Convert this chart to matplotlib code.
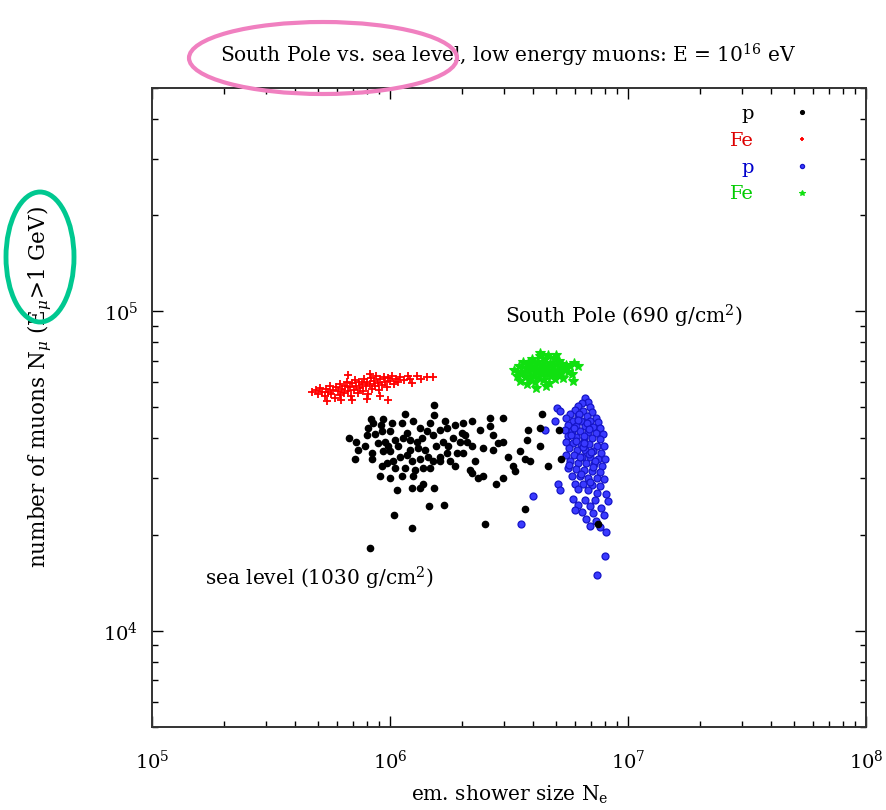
import numpy as np
import matplotlib.pyplot as plt
from matplotlib.patches import Ellipse

plt.rcParams['font.family'] = ['DejaVu Serif']
plt.rcParams['mathtext.fontset'] = 'dejavuserif'

# sea level, protons  (N_e in 1e6, N_mu in 1e3)
sl_p_ne = [1.53, 1.53, 0.832, 0.934, 0.848, 0.917, 1.156, 1.25, 1.124, 0.673,
           0.72, 0.80, 0.865, 0.926, 1.0, 0.953, 1.05, 1.18, 1.213, 1.30,
           1.36, 1.43, 1.52, 1.622, 1.736, 1.875, 2.026, 1.84, 1.968, 1.67,
           0.734, 0.713, 0.84, 0.84, 0.934, 1.0, 1.03, 0.97, 0.926, 0.908,
           1.0, 1.102, 1.18, 1.238, 1.337, 1.445, 1.52, 1.156, 1.274, 1.376,
           1.472, 1.622, 1.736, 1.91, 1.875, 1.622, 1.25, 1.07, 1.238, 1.337,
           1.376, 1.53, 1.46, 1.686, 1.04, 1.238, 0.824, 2.63, 2.98, 2.21,
           2.388, 2.63, 2.065, 2.11, 2.21, 2.46, 2.71, 2.84, 2.71, 2.98,
           2.275, 2.168, 2.21, 2.46, 2.34, 2.79, 2.98, 3.13, 3.516, 3.69,
           3.873, 3.29, 3.35, 3.80, 3.76, 4.266, 4.35, 4.266, 4.61, 5.23,
           3.69, 2.506, 5.13, 7.47, 0.89, 1.08, 1.134, 1.31, 1.403, 1.56,
           1.75, 2.026, 1.05, 1.124, 0.98, 0.785, 1.337, 1.472, 1.702, 1.213,
           1.786, 2.0, 0.81, 1.02]
sl_p_nmu = [50.8, 47.2, 45.9, 45.9, 44.6, 44.0, 47.6, 45.2, 44.6, 40.0,
            39.1, 40.9, 41.2, 42.1, 42.1, 39.1, 39.4, 41.5, 39.4, 39.1,
            40.0, 42.1, 40.9, 42.4, 43.0, 44.0, 44.6, 40.0, 39.1, 39.1,
            36.7, 34.6, 35.9, 34.6, 36.4, 36.4, 34.1, 33.4, 32.7, 30.5,
            30.0, 35.1, 35.4, 34.1, 34.6, 35.1, 33.9, 32.2, 31.8, 32.2,
            32.2, 35.1, 35.9, 35.9, 32.7, 33.9, 30.6, 27.5, 27.9, 27.9,
            28.9, 27.9, 24.5, 24.7, 23.0, 20.9, 18.1, 46.5, 46.5, 45.2,
            42.4, 43.6, 40.9, 39.1, 37.8, 37.2, 40.9, 38.6, 36.7, 39.1,
            34.1, 31.8, 31.1, 30.6, 30.0, 28.9, 30.0, 35.1, 36.4, 34.6,
            34.1, 32.7, 31.6, 42.4, 39.4, 37.8, 47.6, 43.0, 32.7, 34.4,
            24.1, 21.6, 42.4, 21.6, 38.6, 37.8, 40.0, 37.2, 36.7, 37.8,
            37.8, 35.9, 32.2, 30.4, 37.9, 37.8, 43.0, 44.6, 45.5, 36.7,
            34.1, 41.5, 43.0, 44.6]

# sea level, iron
sl_fe_ne = [0.470, 0.489, 0.498, 0.508, 0.518, 0.533, 0.538, 0.549, 0.560, 0.565,
            0.576, 0.587, 0.593, 0.605, 0.617, 0.617, 0.629, 0.641, 0.648, 0.661,
            0.667, 0.679, 0.686, 0.693, 0.706, 0.713, 0.720, 0.734, 0.741, 0.748,
            0.763, 0.770, 0.777, 0.793, 0.800, 0.808, 0.824, 0.832, 0.840, 0.857,
            0.865, 0.874, 0.891, 0.899, 0.908, 0.926, 0.944, 0.953, 0.972, 0.981,
            1.000, 1.020, 1.039, 1.060, 1.080, 1.102, 1.146, 1.190, 1.238, 1.300,
            1.35, 1.43, 1.52, 0.543, 0.623, 0.693, 0.800, 0.908, 0.981, 0.667,
            0.824, 1.213]
sl_fe_nmu = [55.8, 56.6, 54.9, 57.4, 55.8, 54.1, 57.0, 55.8, 58.3, 54.9,
             56.6, 53.4, 57.8, 56.2, 59.1, 54.5, 57.0, 55.3, 58.3, 60.0,
             56.2, 57.8, 54.1, 59.5, 56.6, 60.8, 58.3, 55.3, 60.0, 57.4,
             59.1, 56.2, 61.2, 58.3, 60.0, 54.9, 59.1, 61.7, 57.0, 60.4,
             58.3, 62.5, 59.5, 56.6, 61.2, 58.7, 62.1, 60.0, 57.8, 61.7,
             60.4, 62.5, 59.1, 61.2, 60.0, 62.1, 60.8, 62.5, 59.5, 62.5,
             61.2, 62.1, 62.1, 52.2, 52.6, 52.6, 53.0, 54.1, 52.6, 63.0,
             63.4, 61.2]

# South Pole, protons
sp_p_ne = [6.59, 6.78, 6.40, 6.16, 6.92, 5.03, 5.18, 5.98, 6.46, 7.05,
           5.70, 6.16, 6.72, 7.33, 5.48, 5.87, 6.34, 6.92, 7.47, 5.59,
           6.04, 6.59, 7.12, 7.62, 5.43, 5.81, 6.28, 6.78, 7.33, 7.84,
           5.59, 6.04, 6.53, 7.05, 7.62, 5.48, 5.87, 6.34, 6.85, 7.40,
           7.92, 5.64, 6.10, 6.59, 7.12, 7.69, 5.48, 5.93, 6.40, 6.92,
           7.47, 8.00, 5.70, 6.16, 6.65, 7.19, 7.77, 5.59, 6.04, 6.53,
           7.05, 7.62, 5.81, 6.28, 6.78, 7.40, 7.92, 5.98, 6.46, 7.05,
           7.62, 5.08, 5.18, 6.16, 6.78, 7.40, 8.07, 5.87, 6.59, 7.26,
           8.23, 6.16, 6.92, 7.69, 6.40, 7.12, 7.92, 5.98, 6.65, 7.33,
           6.92, 7.62, 8.07, 3.99, 3.55, 4.93, 4.48, 8.00, 7.40,
           6.25, 6.70, 5.75, 6.05, 6.45, 6.85, 7.25, 5.65, 6.35, 6.95,
           6.15, 6.55, 7.00, 5.90, 6.30, 6.85, 6.50, 7.15]
sp_p_nmu = [53.4, 51.9, 51.5, 50.4, 50.1, 49.7, 48.6, 49.0, 48.6, 48.3,
            47.6, 46.9, 46.9, 46.5, 46.2, 45.5, 45.2, 45.2, 44.9, 44.0,
            43.6, 43.6, 43.3, 43.0, 42.4, 42.1, 42.1, 41.8, 41.5, 41.2,
            40.6, 40.3, 40.0, 40.0, 39.7, 38.9, 38.6, 38.3, 38.3, 38.0,
            37.8, 37.2, 36.9, 36.7, 36.4, 36.1, 35.6, 35.4, 35.1, 35.1,
            34.6, 34.4, 33.9, 33.6, 33.4, 33.2, 32.9, 32.2, 32.0, 31.8,
            31.6, 31.3, 30.6, 30.4, 30.0, 30.0, 29.8, 28.9, 28.7, 28.5,
            28.3, 28.9, 27.5, 27.7, 27.5, 26.9, 26.7, 25.9, 25.7, 25.6,
            25.4, 24.7, 24.5, 24.3, 23.6, 23.3, 23.1, 23.8, 22.4, 22.1,
            21.3, 21.2, 20.4, 26.5, 21.6, 45.2, 42.4, 17.1, 15.0,
            47.8, 44.8, 41.0, 39.2, 37.5, 35.8, 34.0, 33.0, 31.0, 29.3,
            45.8, 40.8, 36.2, 43.0, 34.9, 42.8, 38.8, 32.5]

# South Pole, iron
sp_fe_ne = [3.32, 3.42, 3.48, 3.516, 3.58, 3.62, 3.69, 3.73, 3.76, 3.80,
            3.84, 3.873, 3.91, 3.95, 3.99, 4.03, 4.064, 4.10, 4.14, 4.18,
            4.22, 4.266, 4.31, 4.35, 4.39, 4.43, 4.477, 4.52, 4.56, 4.61,
            4.65, 4.699, 4.74, 4.79, 4.84, 4.88, 4.932, 4.98, 5.03, 5.08,
            5.13, 5.176, 5.23, 5.28, 5.33, 5.38, 5.48, 5.59, 5.70, 5.81,
            5.93, 6.16, 5.87, 4.266, 3.80, 3.516, 4.52, 4.10, 4.98, 4.61]
sp_fe_nmu = [65.4, 62.5, 67.3, 60.4, 64.4, 69.3, 62.1, 66.3, 59.1, 64.4,
             68.2, 61.2, 65.8, 70.8, 63.0, 67.3, 60.0, 64.9, 69.3, 62.1,
             66.3, 72.3, 63.9, 68.2, 60.8, 65.8, 70.8, 63.0, 67.3, 64.9,
             59.5, 68.7, 62.5, 66.8, 64.4, 71.3, 61.2, 68.2, 65.4, 63.0,
             69.8, 66.8, 63.9, 68.2, 61.7, 65.8, 67.8, 64.4, 67.3, 63.4,
             68.7, 67.3, 60.4, 73.8, 68.7, 63.9, 58.3, 57.4, 72.8, 72.8]

sl_p_ne = np.array(sl_p_ne) * 1e6
sl_p_nmu = np.array(sl_p_nmu) * 1e3
sl_fe_ne = np.array(sl_fe_ne) * 1e6
sl_fe_nmu = np.array(sl_fe_nmu) * 1e3
sp_p_ne = np.array(sp_p_ne) * 1e6
sp_p_nmu = np.array(sp_p_nmu) * 1e3
sp_fe_ne = np.array(sp_fe_ne) * 1e6
sp_fe_nmu = np.array(sp_fe_nmu) * 1e3

fig = plt.figure(figsize=(8.86, 8.10), dpi=100)
ax = fig.add_axes([0.1716, 0.1025, 0.8059, 0.789])
ax.set_xscale('log')
ax.set_yscale('log')

h3, = ax.plot(sp_p_ne, sp_p_nmu, 'o', ms=5, mfc='#3a3aff', mec='#1515c8', mew=0.9, ls='none', zorder=2)
h4, = ax.plot(sp_fe_ne, sp_fe_nmu, '*', ms=7, color='#10e010', mew=0.8, ls='none', zorder=2)
h2, = ax.plot(sl_fe_ne, sl_fe_nmu, '+', ms=6, color='#ff0000', mew=1.3, ls='none', zorder=3)
h1, = ax.plot(sl_p_ne, sl_p_nmu, 'o', ms=4.5, color='k', ls='none', zorder=4)

ax.set_xlim(1e5, 1e8)
ax.set_ylim(5e3, 5e5)

ax.tick_params(which='both', direction='in', top=True, right=True, width=1, labelsize=14)
ax.tick_params(axis='x', pad=16)
ax.tick_params(axis='y', pad=10)
ax.tick_params(which='major', length=8)
ax.tick_params(which='minor', length=4.5)
for s in ax.spines.values():
    s.set_linewidth(1.4)
    s.set_color('#333333')

leg = ax.legend([h1, h2, h3, h4], ['p', 'Fe', 'p', 'Fe'],
                labelcolor=['k', '#dd0000', '#0000cc', '#00cc00'],
                markerfirst=False, frameon=False, loc='upper right',
                bbox_to_anchor=(0.938, 0.973), borderaxespad=0, borderpad=0,
                handletextpad=1.5, handlelength=2, labelspacing=0.45,
                fontsize=14, markerscale=0.6)

ax.text(3.04e6, 9.65e4, 'South Pole (690 g/cm$^2$)', fontsize=14.5, va='center')
ax.text(1.67e5, 1.46e4, 'sea level (1030 g/cm$^2$)', fontsize=14.5, va='center')

fig.text(0.573, 0.932, 'South Pole vs. sea level, low energy muons: E = 10$^{16}$ eV',
         ha='center', va='center', fontsize=14.5)
fig.text(510 / 886, 1 - 795 / 810, 'em. shower size N$_{\\mathrm{e}}$',
         ha='center', va='center', fontsize=14.5)
fig.text(40 / 886, 1 - 387 / 810, 'number of muons N$_{\\mu}$ (E$_{\\mu}$>1 GeV)',
         ha='center', va='center', rotation=90, fontsize=15.5)

# highlight ellipses
fig.add_artist(Ellipse((323 / 886, 1 - 58 / 810), 268 / 886, 72 / 810,
                       transform=fig.transFigure, fill=False, ec='#f080c0', lw=3, zorder=10))
fig.add_artist(Ellipse((40 / 886, 1 - 257 / 810), 68 / 886, 130 / 810,
                       transform=fig.transFigure, fill=False, ec='#00c890', lw=3.5, zorder=10))

fig.savefig('out.png', dpi=100)
